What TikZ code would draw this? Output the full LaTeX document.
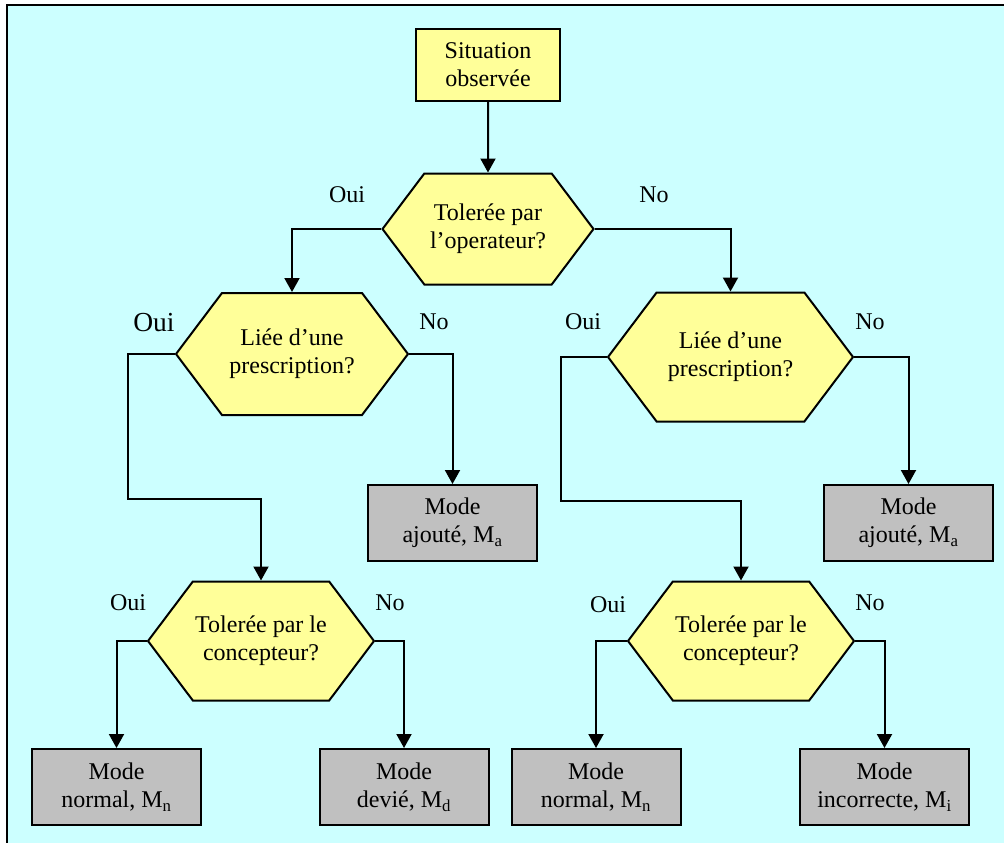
\documentclass[tikz,border=0pt]{standalone}
\usepackage{fontspec}
\setmainfont{Liberation Serif}
\usetikzlibrary{arrows.meta,shapes.symbols}

\begin{document}
\begin{tikzpicture}[x=1pt,y=-1pt,line join=miter]
  % ----- styles & colors -----
  \definecolor{panelbg}{RGB}{204,255,255}   % light cyan
  \definecolor{askfill}{RGB}{255,255,153}   % pale yellow
  \definecolor{modefill}{RGB}{192,192,192}  % gray
  \tikzset{
    txt/.style={font=\fontsize{24}{28}\selectfont,align=center,inner sep=0pt},
    start/.style={txt,draw=black,fill=askfill,line width=2pt,minimum width=144pt,minimum height=72pt},
    ask/.style={txt,draw=black,fill=askfill,line width=2pt,shape=signal,
      signal to=west and east,signal pointer angle=106},
    mode/.style={txt,draw=black,fill=modefill,line width=2pt,minimum width=169pt,minimum height=76pt},
    lbl/.style={font=\fontsize{24}{28}\selectfont},
    arr/.style={draw=black,line width=2pt,-{Triangle[width=15pt,length=14pt]}}
  }

  % ----- page & panel -----
  \useasboundingbox (0,0) rectangle (1004,843);
  \clip (0,0) rectangle (1004,843);
  \draw[fill=panelbg,line width=2pt] (7,5) rectangle (1012,852);

  % ----- nodes -----
  \node[start] (s) at (488,65) {Situation\\observée};

  \node[ask,minimum width=211pt,minimum height=111pt] (h1) at (488,229) {Tolerée par\\l’operateur?};
  \node[ask,minimum width=232pt,minimum height=122pt] (h2) at (292,354) {Liée d’une\\prescription?};
  \node[ask,minimum width=245pt,minimum height=129pt] (h3) at (730.5,357) {Liée d’une\\prescription?};
  \node[ask,minimum width=226pt,minimum height=119pt] (h4) at (261,641) {Tolerée par le\\concepteur?};
  \node[ask,minimum width=226pt,minimum height=119pt] (h5) at (741,641) {Tolerée par le\\concepteur?};

  \node[mode] (b1) at (452.5,523) {Mode\\ajouté, M\textsubscript{a}};
  \node[mode] (b2) at (908.5,523) {Mode\\ajouté, M\textsubscript{a}};
  \node[mode] (b3) at (116.5,787) {Mode\\normal, M\textsubscript{n}};
  \node[mode] (b4) at (404,787) {Mode\\devié, M\textsubscript{d}};
  \node[mode] (b5) at (596,787) {Mode\\normal, M\textsubscript{n}};
  \node[mode] (b6) at (884.5,787) {Mode\\incorrecte, M\textsubscript{i}};

  % branch labels
  \node[lbl] (o1) at (347,195) {Oui};
  \node[lbl] (n1) at (654,195) {No};
  \node[lbl,font=\fontsize{27.5}{30}\selectfont] (o2) at (154,323) {Oui};
  \node[lbl] (n2) at (434,322) {No};
  \node[lbl] (o3) at (583,322) {Oui};
  \node[lbl] (n3) at (870,322) {No};
  \node[lbl] (o4) at (128,603) {Oui};
  \node[lbl] (n4) at (390,603) {No};
  \node[lbl] (o5) at (608,605) {Oui};
  \node[lbl] (n5) at (870,603) {No};

  % bends of the long Oui branches
  \coordinate (k1) at (128,499);
  \coordinate (k2) at (561,501);

  % ----- connectors -----
  \draw[arr] (s) -- (h1);
  \draw[arr] (h1.west) -| (h2.north);
  \draw[arr] (h1.east) -| (h3.north);
  \draw[arr] (h2.west) -| (k1) -| (h4.north);
  \draw[arr] (h2.east) -| (b1.north);
  \draw[arr] (h3.west) -| (k2) -| (h5.north);
  \draw[arr] (h3.east) -| (b2.north);
  \draw[arr] (h4.west) -| (b3.north);
  \draw[arr] (h4.east) -| (b4.north);
  \draw[arr] (h5.west) -| (b5.north);
  \draw[arr] (h5.east) -| (b6.north);

\end{tikzpicture}
\end{document}
